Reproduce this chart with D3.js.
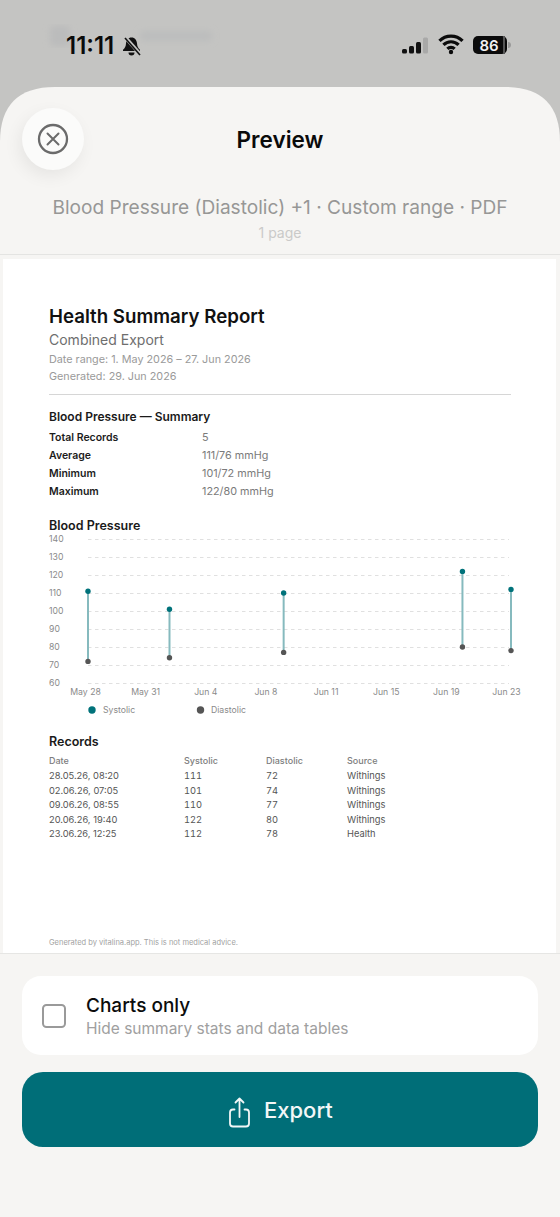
<!DOCTYPE html>
<html lang="en">
<head>
<meta charset="UTF-8">
<title>Preview - Blood Pressure</title>
<script src="https://d3js.org/d3.v7.min.js"></script>
<style>
    html, body { margin: 0; padding: 0; background: #f6f5f3; }
    svg { display: block; }
    text { font-family: Inter, "Noto Sans", sans-serif; }
</style>
</head>
<body>
<svg id="page" width="560" height="1217"></svg>
<script>
// chart data
const recordDates = ["28.05.26, 08:20", "02.06.26, 07:05", "09.06.26, 08:55", "20.06.26, 19:40", "23.06.26, 12:25"];
const plotTimes = ["2026-05-28T08:20", "2026-06-02T09:20", "2026-06-09T10:50", "2026-06-20T12:20", "2026-06-23T12:25"];
const systolic = [111, 101, 110, 122, 112];
const diastolic = [72, 74, 77, 80, 78];
const sources = ["Withings", "Withings", "Withings", "Withings", "Health"];
const xTickLabels = ["May 28", "May 31", "Jun 4", "Jun 8", "Jun 11", "Jun 15", "Jun 19", "Jun 23"];
const yTicks = [60, 70, 80, 90, 100, 110, 120, 130, 140];

const summaryLabels = ["Total Records", "Average", "Minimum", "Maximum"];
const summaryValues = ["5", "111/76 mmHg", "101/72 mmHg", "122/80 mmHg"];
const tableHeads = ["Date", "Systolic", "Diastolic", "Source"];

const teal = "#00727a";
const darkDot = "#555555";

const svg = d3.select("#page");
const defs = svg.append("defs");
defs.append("filter").attr("id", "soft").append("feGaussianBlur").attr("stdDeviation", 3);
defs.append("filter").attr("id", "shadow").attr("x", "-60%").attr("y", "-60%").attr("width", "220%").attr("height", "220%")
    .append("feGaussianBlur").attr("stdDeviation", 9);

function label(x, y, str, size, color, weight, anchor) {
    return svg.append("text")
        .attr("x", x).attr("y", y)
        .attr("font-size", size)
        .attr("fill", color)
        .attr("font-weight", weight || 400)
        .attr("text-anchor", anchor || "start")
        .text(str);
}

// backdrop and status bar
svg.append("rect").attr("width", 560).attr("height", 1217).attr("fill", "#c4c4c2");
svg.append("g").attr("filter", "url(#soft)").call(g => {
    g.append("rect").attr("x", 50).attr("y", 26).attr("width", 20).attr("height", 20).attr("rx", 4).attr("fill", "#bbbcbc");
    g.append("rect").attr("x", 140).attr("y", 31).attr("width", 72).attr("height", 10).attr("rx", 4).attr("fill", "#bcbdbd");
});
label(66, 53.500, "11:11", 24, "#0b0b0b", 600);
// muted bell
svg.append("g").attr("transform", "translate(9,0)").call(g => {
    g.append("path")
        .attr("d", "M122.500 37.500c-3.500 0-5.200 2.700-5.500 6-.2 3-1 4.500-3 6.200v1.300h17v-1.300c-2-1.700-2.800-3.200-3-6.200-.3-3.300-2-6-5.500-6z")
        .attr("fill", "#111");
    g.append("path").attr("d", "M119.500 52.500a3 3 0 0 0 6 0z").attr("fill", "#111");
    g.append("line").attr("x1", 116).attr("y1", 37).attr("x2", 131).attr("y2", 54).attr("stroke", "#c4c4c2").attr("stroke-width", 3.5);
    g.append("line").attr("x1", 116).attr("y1", 38).attr("x2", 131).attr("y2", 55).attr("stroke", "#111").attr("stroke-width", 1.6);
});

// signal bars
[[49, "#111"], [46, "#111"], [42, "#111"], [37.500, "#a9a9a8"]].forEach((b, i) => {
    svg.append("rect").attr("x", 402 + i * 7).attr("y", b[0]).attr("width", 5).attr("height", 53.5 - b[0]).attr("rx", 1.500).attr("fill", b[1]);
});
// wifi
[16, 10.500, 5].forEach(r => {
    svg.append("path")
        .attr("d", `M${451 - r * 0.72} ${53 - r * 0.72 - 0.500}A${r} ${r} 0 0 1 ${451 + r * 0.72} ${53 - r * 0.72 - 0.500}`)
        .attr("fill", "none").attr("stroke", "#0b0b0b").attr("stroke-width", 3.2);
});
svg.append("circle").attr("cx", 451).attr("cy", 52).attr("r", 2.200).attr("fill", "#0b0b0b");
// battery
svg.append("rect").attr("x", 473).attr("y", 36).attr("width", 34).attr("height", 18).attr("rx", 5).attr("fill", "#0b0b0b");
svg.append("rect").attr("x", 503).attr("y", 36).attr("width", 2).attr("height", 18).attr("fill", "#555");
svg.append("path").attr("d", "M508 42a3 3 0 0 1 0 6z").attr("fill", "#9a9a99");
label(489, 50.500, "86", 15, "#f2f2f2", 600, "middle");

// sheet
svg.append("path").attr("d", "M0 1217V142Q0 87 55 87H505Q560 87 560 142V1217Z").attr("fill", "#f6f5f3");
svg.append("circle").attr("cx", 50).attr("cy", 145).attr("r", 30).attr("fill", "#000").attr("opacity", 0.07).attr("filter", "url(#shadow)");
svg.append("circle").attr("cx", 53).attr("cy", 139).attr("r", 31).attr("fill", "#fbfbfa");
svg.append("circle").attr("cx", 53).attr("cy", 139).attr("r", 14).attr("fill", "none").attr("stroke", "#6b6b6b").attr("stroke-width", 2.300);
svg.append("path").attr("d", "M47.500 133.500L58.500 144.500M58.500 133.500L47.500 144.500").attr("stroke", "#6b6b6b").attr("stroke-width", 2).attr("stroke-linecap", "round");
label(280, 148, "Preview", 22.500, "#0a0a0a", 600, "middle");
label(280, 214, "Blood Pressure (Diastolic) +1 · Custom range · PDF", 19.100, "#979796", 400, "middle");
label(280, 238, "1 page", 14, "#cacac9", 400, "middle");
svg.append("line").attr("x1", 0).attr("x2", 560).attr("y1", 254.500).attr("y2", 254.500).attr("stroke", "#e4e4e2");

// document page
svg.append("rect").attr("x", 3).attr("y", 259).attr("width", 553).attr("height", 694).attr("fill", "#fff");
svg.append("line").attr("x1", 0).attr("x2", 560).attr("y1", 953.500).attr("y2", 953.500).attr("stroke", "#e6e6e4");

label(49, 323, "Health Summary Report", 18.700, "#111", 600);
label(49, 345, "Combined Export", 14, "#6e6e6e");
label(49, 363, "Date range: 1. May 2026 – 27. Jun 2026", 10.800, "#9a9a9a");
label(49, 380, "Generated: 29. Jun 2026", 10.800, "#9a9a9a");
svg.append("line").attr("x1", 49).attr("x2", 511).attr("y1", 394.500).attr("y2", 394.500).attr("stroke", "#d6d6d6");

label(49, 421, "Blood Pressure — Summary", 12, "#1a1a1a", 600);
summaryLabels.forEach((s, i) => {
    const y = 441 + i * 18;
    label(49, y, s, 10.500, "#1c1c1c", 600);
    label(202, y, summaryValues[i], 10.800, "#7a7a7a");
});

label(49, 529.500, "Blood Pressure", 12.500, "#1a1a1a", 600);

// chart
const y = d3.scaleLinear().domain([60, 140]).range([683, 539]);
const x = d3.scaleTime()
    .domain([new Date(plotTimes[0]), new Date(plotTimes[plotTimes.length - 1])])
    .range([88, 511]);
const xLabels = d3.scalePoint().domain(xTickLabels).range([85, 506]);

svg.append("g")
    .attr("transform", "translate(88,0)")
    .call(d3.axisLeft(y).tickValues(yTicks).tickSize(-421).tickPadding(0))
    .call(g => g.select(".domain").remove())
    .call(g => g.selectAll(".tick line").attr("stroke", "#e0e0e0").attr("stroke-dasharray", "3.500 3.500"))
    .call(g => g.selectAll(".tick text")
        .attr("x", -39).attr("text-anchor", "start")
        .attr("font-family", "Inter").attr("font-size", 8.700).attr("fill", "#8a8a8a"));

svg.append("g")
    .attr("transform", "translate(0,683)")
    .call(d3.axisBottom(xLabels).tickSize(0).tickPadding(6))
    .call(g => g.select(".domain").remove())
    .call(g => g.selectAll(".tick text")
        .attr("font-family", "Inter").attr("font-size", 8.700).attr("fill", "#8a8a8a"));

const rows = systolic.map((s, i) => ({ t: new Date(plotTimes[i]), s, d: diastolic[i] }));
svg.append("g").selectAll("line").data(rows).join("line")
    .attr("x1", d => x(d.t)).attr("x2", d => x(d.t))
    .attr("y1", d => y(d.s)).attr("y2", d => y(d.d))
    .attr("stroke", "#86babe").attr("stroke-width", 2);
svg.append("g").selectAll("circle").data(rows).join("circle")
    .attr("cx", d => x(d.t)).attr("cy", d => y(d.s)).attr("r", 2.700).attr("fill", teal);
svg.append("g").selectAll("circle").data(rows).join("circle")
    .attr("cx", d => x(d.t)).attr("cy", d => y(d.d)).attr("r", 2.700).attr("fill", darkDot);

// legend
svg.append("circle").attr("cx", 92).attr("cy", 710).attr("r", 3.700).attr("fill", teal);
label(103, 713, "Systolic", 8.700, "#8a8a8a");
svg.append("circle").attr("cx", 200.500).attr("cy", 710).attr("r", 3.700).attr("fill", darkDot);
label(211, 713, "Diastolic", 8.700, "#8a8a8a");

// records table
label(49, 746, "Records", 12.500, "#1a1a1a", 600);
const colX = [49, 184, 266, 347];
tableHeads.forEach((h, i) => label(colX[i], 764, h, 9, "#7d7d7d", 500));
recordDates.forEach((d, i) => {
    const ry = 779 + i * 14.500;
    label(colX[0], ry, d, 9.300, "#555");
    label(colX[1], ry, systolic[i], 9.300, "#555").style("font-variant-numeric", "tabular-nums");
    label(colX[2], ry, diastolic[i], 9.300, "#555").style("font-variant-numeric", "tabular-nums");
    label(colX[3], ry, sources[i], 9.300, "#555");
});
label(49, 945, "Generated by vitalina.app. This is not medical advice.", 7.500, "#a2a2a2");

// options card
svg.append("rect").attr("x", 22).attr("y", 976).attr("width", 516).attr("height", 79).attr("rx", 19).attr("fill", "#fff");
svg.append("rect").attr("x", 43).attr("y", 1005).attr("width", 22).attr("height", 22).attr("rx", 3.500)
    .attr("fill", "none").attr("stroke", "#9a9a9a").attr("stroke-width", 2);
label(86, 1012, "Charts only", 19, "#0c0c0c", 500);
label(86, 1034, "Hide summary stats and data tables", 15.500, "#a0a0a0");

// export button
svg.append("rect").attr("x", 22).attr("y", 1072).attr("width", 516).attr("height", 75).attr("rx", 21).attr("fill", "#006e78");
svg.append("path")
    .attr("d", "M234.500 1109.500h-1.500a3 3 0 0 0-3 3v11a3 3 0 0 0 3 3h13a3 3 0 0 0 3-3v-11a3 3 0 0 0-3-3h-1.500M239.500 1117v-18M235.500 1102.500l4-4 4 4")
    .attr("fill", "none").attr("stroke", "#f2f7f7").attr("stroke-width", 1.800).attr("stroke-linecap", "round").attr("stroke-linejoin", "round");
label(264, 1118, "Export", 22, "#f2f7f7", 500);
</script>
</body>
</html>
